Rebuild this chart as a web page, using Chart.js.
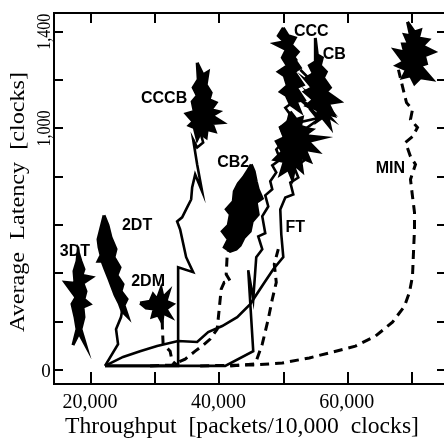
<!DOCTYPE html>
<html>
<head>
<meta charset="utf-8">
<script src="https://cdn.jsdelivr.net/npm/chart.js@4/dist/chart.umd.min.js"></script>
<style>
html,body{margin:0;padding:0;background:#fff;overflow:hidden;}
canvas{display:block;}
</style>
</head>
<body>
<canvas id="c" width="448" height="441" style="width:448px;height:441px"></canvas>
<script>
// ---- axis ticks ----
const xTickValues = [20000, 30000, 40000, 50000, 60000, 70000];
const xTickLabels = {20000: '20,000', 40000: '40,000', 60000: '60,000'};
const yTickValues = [0, 200, 400, 600, 800, 1000, 1200, 1400];
const yTickLabels = {0: '0', 1000: '1,000', 1400: '1,400'};
const xTitle = 'Throughput  [packets/10,000  clocks]';
const yTitle = 'Average  Latency  [clocks]';

// ---- series (throughput, latency) ----
const cluster3DT = [[17192,103],[17816,169],[17504,219],[17036,273],[17660,301],[15944,363],[17504,359],[17348,409],[17816,450],[17972,491],[18440,450],[18908,417],[18596,392],[20156,384],[18752,359],[19220,326],[18908,293],[19844,273],[18752,260],[18908,219],[18440,169],[19220,99],[18128,153],[17192,103]];
const path2DT = [[22184,17],[24212,107],[23900,169],[24680,219],[24836,244]];
const cluster2DT = [[22028,640],[22652,599],[23120,549],[23900,500],[23588,467],[24524,425],[24056,392],[24992,355],[24680,326],[25616,293],[25148,268],[25772,219],[24836,244],[24368,277],[23744,310],[23276,343],[22808,376],[22184,417],[21716,450],[21092,450],[21560,475],[21248,508],[21092,541],[21404,574],[21716,607],[22028,640]];
const path2DM = [[31076,205],[31232,107],[32324,78],[32636,37],[33572,17]];
const cluster2DM = [[27644,277],[29204,285],[29672,314],[30296,293],[30920,339],[31232,301],[32168,326],[31700,285],[32792,273],[31700,252],[32480,219],[31232,235],[31076,198],[30452,227],[29516,219],[29828,252],[28580,256],[27644,277]];
const pathCCCB = [[22184,17],[33572,17],[33572,425],[35912,405],[34820,467],[33884,582],[33416,615],[34196,632],[34976,673],[35600,706],[35756,756],[36224,809],[37316,739],[36536,851],[35912,954],[36536,921],[37472,942],[37004,987]];
const clusterCCCB = [[36536,1272],[37472,1222],[38252,1235],[37940,1181],[38720,1148],[38408,1119],[39500,1107],[38720,1078],[39968,1070],[38876,1053],[40592,1024],[38876,1020],[39344,987],[38096,995],[37940,962],[37004,979],[36536,954],[36068,1004],[35288,1012],[35912,1028],[34820,1061],[36068,1070],[35756,1111],[36536,1136],[35912,1169],[36692,1202],[36536,1272]];
const pathCB2 = [[29204,17],[32636,21],[34664,45],[36224,78],[37472,103],[38564,128],[39656,169],[39968,252],[40280,335],[40748,363],[41684,368],[41060,396],[41216,479],[41996,541]];
const clusterCB2 = [[44960,851],[45428,822],[45740,781],[46052,748],[46676,710],[45740,694],[46052,644],[45116,615],[44804,574],[43868,549],[43244,516],[42620,500],[41684,491],[40748,508],[41372,541],[40436,574],[41372,599],[41684,644],[41060,665],[42152,698],[42308,739],[42932,772],[43712,797],[44336,822],[44960,851]];
const pathFT = [[22184,17],[24992,54],[27644,78],[30296,99],[33572,120],[36536,116],[38252,157],[40436,182],[42776,219],[44804,273],[46832,355],[48392,417],[49952,467],[49640,562],[49484,665],[50264,714],[51512,727],[51044,776],[52292,797],[51668,838],[53384,871],[52604,913],[54164,954],[53228,995],[55412,1037],[54164,1078],[56036,1111],[54788,1152],[56036,1202],[55100,1243]];
const clusterFT = [[51044,1070],[51980,1037],[52916,1045],[52604,1004],[54476,995],[53228,971],[56348,962],[53852,946],[55412,904],[53384,913],[54164,863],[52604,880],[52916,822],[51824,847],[51356,789],[50732,830],[49484,809],[50108,863],[48548,871],[49796,904],[48860,946],[50108,962],[49484,1004],[50576,1020],[51044,1070]];
const pathCCC = [[22184,17],[40904,17],[45272,78],[44492,413],[45272,293],[45740,467],[46676,500],[46052,553],[47144,566],[46676,636],[47612,677],[47144,723],[48236,748],[47924,781],[48860,818],[48236,847],[49484,871],[48860,913],[50264,954],[49484,1004],[51356,1045],[50264,1086],[51980,1119],[50732,1152],[52604,1181],[51044,1222],[51980,1284],[50264,1346]];
const clusterCCC = [[49952,1417],[50732,1384],[51824,1375],[51200,1346],[52292,1317],[51512,1293],[52604,1251],[51668,1235],[53072,1181],[51980,1169],[53228,1119],[51980,1111],[52604,1070],[51044,1099],[50420,1136],[49484,1152],[50576,1177],[50108,1218],[49172,1235],[50576,1260],[49796,1293],[50420,1326],[48548,1351],[50108,1359],[49172,1384],[49952,1417]];
const pathCB = [[41684,17],[45584,25],[46676,107],[47612,211],[48236,293],[48860,363],[48548,438],[49172,500]];
const clusterCB = [[54944,1375],[55256,1305],[56036,1293],[55724,1260],[56660,1235],[56192,1210],[57284,1169],[56660,1152],[58844,1111],[56972,1103],[57908,1053],[56816,1061],[57284,1004],[56036,1045],[55100,1028],[55412,1078],[53540,1094],[54632,1119],[53228,1152],[54476,1169],[53540,1210],[54632,1227],[54008,1260],[54944,1276],[54944,1375]];
const scribbleCB = [[52604,1243],[56504,1140],[53384,1202],[57284,1078],[54164,1140],[57596,1037],[52604,1119],[55724,1045],[51512,1020],[53852,1000]];
const pathMIN = [[37004,17],[45584,21],[49796,29],[54008,50],[57596,74],[61184,99],[64304,140],[66956,198],[68828,264],[69608,322],[70076,388],[70232,487],[70388,582],[70388,653],[70076,719],[69764,789],[70544,851],[69764,884],[68984,942],[70076,966],[70856,1004],[69764,1037],[70076,1078],[69140,1107],[68828,1140],[67892,1243]];
const clusterMIN = [[69296,1441],[70388,1400],[71324,1408],[71012,1375],[72572,1367],[71636,1342],[73508,1317],[71948,1301],[72260,1268],[71324,1260],[73196,1202],[71324,1210],[70388,1185],[69764,1218],[68516,1210],[69140,1243],[67580,1260],[68672,1276],[67268,1326],[68828,1317],[68516,1350],[69452,1350],[68828,1388],[69764,1384],[69296,1441]];

// ---- series name labels (anchor in data units) ----
const labelTexts = ['3DT','2DT','2DM','CCCB','CB2','FT','CCC','CB','MIN'];
const labelX = [17504,27176,28892,31388,42152,51824,54320,57908,66644];
const labelY = [491,599,368,1123,859,591,1400,1305,834];

const toPts = arr => arr.map(p => ({x: p[0], y: p[1]}));
function pathDs(name, arr, dashed) {
  return {label: name, data: toPts(arr), showLine: true, borderColor: '#000',
    borderWidth: dashed ? 3 : 2.6, borderDash: dashed ? [9, 6] : [], pointRadius: 0, fill: false, tension: 0};
}
function blobDs(name, arr) {
  return {label: name, data: toPts(arr), showLine: true, borderColor: '#000', backgroundColor: '#000',
    borderWidth: 3, pointRadius: 0, fill: 'shape', tension: 0};
}

const datasets = [
  blobDs('3DT', cluster3DT),
  pathDs('2DT', path2DT, false), blobDs('2DT', cluster2DT),
  pathDs('2DM', path2DM, true), blobDs('2DM', cluster2DM),
  pathDs('CCCB', pathCCCB, false), blobDs('CCCB', clusterCCCB),
  pathDs('CB2', pathCB2, true), blobDs('CB2', clusterCB2),
  pathDs('FT', pathFT, false), blobDs('FT', clusterFT),
  pathDs('CCC', pathCCC, false), blobDs('CCC', clusterCCC),
  pathDs('CB', pathCB, true), blobDs('CB', clusterCB), pathDs('CB', scribbleCB, false),
  pathDs('MIN', pathMIN, true), blobDs('MIN', clusterMIN)
];

const serif = "'Liberation Serif','Times New Roman',serif";
const sans = "'Liberation Sans',Arial,sans-serif";

function fitText(ctx, text, cx, cy, target) {
  const w = ctx.measureText(text).width;
  const s = target / w;
  ctx.save(); ctx.translate(cx, cy); ctx.scale(s, 1);
  ctx.textAlign = 'center'; ctx.fillText(text, 0, 0); ctx.restore();
}

const framePlugin = {
  id: 'frame',
  afterDraw(chart) {
    const {ctx, chartArea: a, scales: {x, y}} = chart;
    ctx.save();
    ctx.strokeStyle = '#000'; ctx.fillStyle = '#000'; ctx.lineWidth = 2;
    ctx.setLineDash([]);
    ctx.strokeRect(a.left, a.top, a.right - a.left, a.bottom - a.top);
    const seg = (x1, y1, x2, y2) => { ctx.beginPath(); ctx.moveTo(x1, y1); ctx.lineTo(x2, y2); ctx.stroke(); };
    xTickValues.forEach(v => {
      const px = Math.round(x.getPixelForValue(v));
      seg(px, a.bottom, px, a.bottom - 12);
      seg(px, a.top, px, a.top + 10);
    });
    yTickValues.forEach(v => {
      const py = Math.round(y.getPixelForValue(v));
      seg(a.left, py, a.left + 9, py);
      seg(a.right, py, a.right - 9, py);
    });
    ctx.font = '20px ' + serif; ctx.textAlign = 'center'; ctx.textBaseline = 'alphabetic';
    xTickValues.forEach(v => { if (xTickLabels[v]) ctx.fillText(xTickLabels[v], x.getPixelForValue(v) - 1, a.bottom + 24); });
    yTickValues.forEach(v => {
      const t = yTickLabels[v]; if (!t) return;
      const py = y.getPixelForValue(v);
      if (t.length === 1) {
        ctx.font = '19px ' + serif; ctx.textAlign = 'center';
        ctx.fillText(t, a.left - 8, py + 7);
      } else {
        ctx.save(); ctx.translate(a.left - 4, py); ctx.rotate(-Math.PI / 2);
        ctx.font = '18px ' + serif;
        fitText(ctx, t, 0, 0, 36);
        ctx.restore();
      }
    });
    ctx.font = '23px ' + serif;
    fitText(ctx, xTitle, 242, 433, 354);
    ctx.save(); ctx.translate(24, 202); ctx.rotate(-Math.PI / 2);
    ctx.font = '21px ' + serif;
    fitText(ctx, yTitle, 0, 0, 260);
    ctx.restore();
    ctx.font = 'bold 16px ' + sans; ctx.textAlign = 'center'; ctx.textBaseline = 'middle';
    labelTexts.forEach((t, i) => ctx.fillText(t, x.getPixelForValue(labelX[i]), y.getPixelForValue(labelY[i])));
    ctx.restore();
  }
};

new Chart(document.getElementById('c'), {
  type: 'scatter',
  data: {datasets},
  options: {
    responsive: false, animation: false, devicePixelRatio: 1,
    layout: {padding: {left: 54, top: 13, right: 2, bottom: 57}},
    plugins: {legend: {display: false}, tooltip: {enabled: false}},
    elements: {line: {borderJoinStyle: 'miter'}},
    scales: {
      x: {type: 'linear', min: 14237, max: 75296, display: false},
      y: {type: 'linear', min: -58, max: 1478, display: false}
    }
  },
  plugins: [framePlugin]
});
</script>
</body>
</html>
